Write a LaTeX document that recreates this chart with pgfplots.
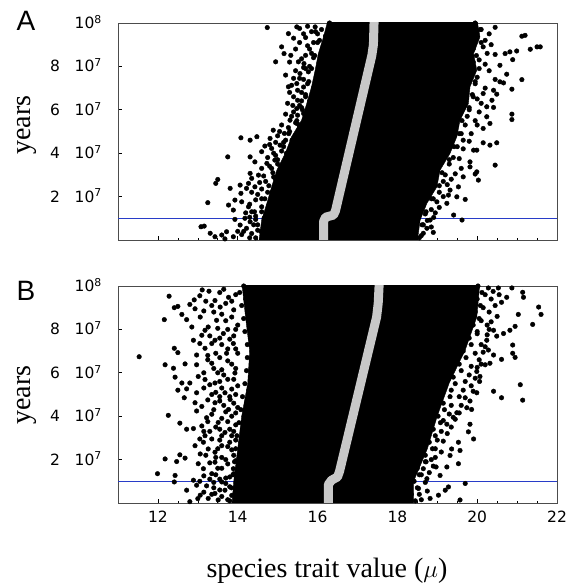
\documentclass[border=0pt]{standalone}
\usepackage{fontspec}
\setmainfont{Liberation Serif}
\newfontfamily\tickfont{DejaVu Sans}
\newfontfamily\panelfont{Liberation Sans}
\usepackage{pgfplots}
\pgfplotsset{compat=1.18}

\definecolor{medline}{RGB}{200,200,200}
\definecolor{cutline}{RGB}{40,60,200}
\newcommand{\tickfs}{\tickfont\fontsize{15.5}{17}\selectfont}

\pgfplotsset{
  panel/.style={
    scale only axis, width=439pt, height=217pt,
    xmin=11, xmax=22, ymin=0, ymax=10,
    xtick={12,14,16,18,20,22}, minor x tick num=3,
    ytick={2,4,6,8,10},
    xticklabels={}, yticklabels={},
    tick align=inside, tick pos=left,
    major tick length=4pt, minor tick length=2pt,
    axis line style={black!70, line width=0.8pt},
    tick style={black, line width=0.6pt},
  },
  dots/.style={only marks, mark=*, mark size=2.3pt, black},
}
\tikzset{
  ylab/.style={anchor=base east, font=\tickfs, inner sep=0pt, xshift=-16pt, yshift=-5.5pt},
  xlab/.style={anchor=north, font=\tickfs, inner sep=0pt, yshift=-8pt},
}

\begin{document}
\begin{tikzpicture}
\path[use as bounding box] (0pt,0pt) rectangle (575pt,587pt);

% ---------- panel A
\begin{axis}[panel, at={(118pt,347pt)}, anchor=south west]
  \addplot[color=cutline, line width=1.2pt] coordinates {(11,1) (22,1)};
  % dense core
  \addplot[fill=black, draw=black] coordinates {
    (14.52,-0.2) (14.60,0.92) (14.73,1.69) (14.85,2.45) (14.98,3.22) (15.19,3.99)
    (15.35,4.76) (15.60,5.52) (15.73,6.29) (15.85,7.06) (15.94,7.82) (16.02,8.59)
    (16.15,9.36) (16.27,10.2)
    (19.99,10.2) (20.07,9.36) (19.91,8.59) (19.99,7.82) (19.82,7.06) (19.78,6.29)
    (19.57,5.52) (19.49,4.76) (19.32,3.99) (19.07,3.22) (18.99,2.45) (18.74,1.69)
    (18.57,0.92) (18.49,-0.2)
  };
  % left fringe
  \addplot[dots] coordinates {
    (14.74,9.79) (15.48,9.82) (15.75,9.85) (15.94,9.82) (15.27,9.51) (15.70,9.33)
    (15.10,8.90) (15.33,8.51) (15.16,8.59) (15.70,8.51) (14.95,8.21) (15.52,8.21)
    (15.66,8.13) (15.56,7.67) (15.77,7.75) (15.27,7.06) (15.48,7.21) (15.35,7.13)
    (15.50,6.44) (15.60,6.41) (15.48,6.06) (15.65,5.83) (15.50,5.75) (15.31,5.52)
    (15.27,5.18) (14.89,5.06) (15.17,4.91) (14.08,4.71) (14.31,4.60) (14.48,4.76)
    (14.81,4.68) (14.68,4.33) (15.06,4.37) (14.85,4.22) (14.60,4.07) (14.31,3.83)
    (14.43,3.60) (13.75,3.83) (14.73,3.53) (14.93,3.68) (14.85,3.30) (14.52,2.99)
    (14.31,3.07) (14.35,2.84) (13.50,2.79) (13.45,2.61) (13.81,2.38) (14.06,2.53)
    (14.22,2.38) (14.27,2.61) (14.43,2.45) (14.08,2.15) (13.93,1.84) (14.10,1.76)
    (13.77,1.61) (13.89,1.38) (13.25,1.72) (14.27,1.53) (14.42,1.30) (14.60,1.53)
    (14.18,1.00) (13.93,0.95) (14.31,0.84) (14.06,0.69) (14.22,0.54) (13.16,0.64)
    (13.08,0.61) (13.31,0.31) (13.43,0.15) (13.60,0.23) (13.72,0.38) (13.68,0.05)
    (13.89,0.15)
    (15.85,9.6) (16.0,9.5) (15.9,9.1) (16.05,9.2) (15.8,8.8) (15.9,8.4) (15.8,8.0)
    (15.7,7.9) (15.65,7.4) (15.75,7.2) (15.6,6.8) (15.7,6.6) (15.4,6.6) (15.55,6.2)
    (15.4,5.9) (15.45,5.4) (15.3,5.0) (15.2,4.6) (15.0,4.8) (15.1,4.1) (14.95,3.9)
    (15.0,3.5) (14.9,2.9) (14.7,2.7) (14.75,2.2) (14.6,1.9) (14.5,2.1) (14.45,1.1)
    (14.4,0.7) (14.35,0.3) (14.1,0.25) (14.5,0.45)
    (14.45,0.1) (14.58,0.4) (14.5,0.7) (14.66,1.0) (14.6,1.3) (14.78,1.6) (14.68,1.9)
    (14.86,2.2) (14.78,2.5) (14.95,2.8) (14.88,3.1) (15.08,3.4) (15.0,3.7) (15.22,4.0)
    (15.15,4.3) (15.36,4.6) (15.28,4.9) (15.55,5.2) (15.48,5.5) (15.7,5.8) (15.6,6.1)
    (15.8,6.4) (15.7,6.7) (15.9,7.0) (15.78,7.3) (15.98,7.6) (15.85,7.9) (16.05,8.2)
    (15.93,8.5) (16.12,8.8) (16.0,9.1) (16.2,9.4) (16.1,9.7) (16.3,10.0)
    (15.55,9.75) (15.65,9.5) (15.4,9.3) (15.95,9.6) (15.55,9.1) (15.75,8.95) (15.45,8.8)
    (15.6,8.35) (15.85,8.6) (15.3,8.2) (15.65,7.95) (15.45,7.8) (15.2,7.6) (15.55,7.45)
    (15.4,7.45) (15.5,6.9) (15.3,6.8) (15.65,7.05) (15.25,6.3) (15.38,6.2) (15.62,6.0)
    (15.2,5.8) (15.35,5.7) (15.5,5.35) (15.1,5.3) (15.05,5.0) (14.95,4.5) (15.15,4.5)
    (14.8,4.4) (14.9,4.0) (14.75,3.8) (14.8,3.4) (14.6,3.3) (14.65,2.95) (14.55,2.65)
    (14.6,2.35) (14.35,2.2) (14.45,1.85) (14.3,1.65) (14.35,1.3) (14.2,1.25) (14.3,1.05)
    (14.15,0.4) (14.3,0.1) (14.0,0.4) (14.45,0.95)
  };
  % right fringe
  \addplot[dots] coordinates {
    (21.12,9.39) (21.20,9.43) (21.58,8.90) (21.50,8.90) (21.33,8.79) (20.99,8.71)
    (20.82,8.67) (20.70,8.59) (20.89,8.31) (20.57,8.05) (20.74,7.64) (21.12,7.39)
    (20.66,7.24) (20.57,7.29) (20.87,6.95) (20.41,6.90) (20.49,6.72) (20.37,6.44)
    (20.24,6.14) (20.41,6.11) (20.87,5.80) (20.87,5.55) (20.24,5.68) (20.32,5.37)
    (20.15,5.14) (20.49,4.48) (20.32,4.37) (20.15,4.48) (19.91,4.14) (19.99,4.14)
    (19.82,3.60) (20.45,3.45) (19.99,3.14) (19.95,3.04) (20.03,2.76) (19.65,2.91)
    (19.53,2.45) (19.32,2.30) (19.28,2.07) (19.70,1.87) (19.49,1.99) (18.99,1.76)
    (19.24,1.69) (19.41,1.15) (19.62,0.92) (18.91,1.04) (18.82,0.92) (18.74,0.54)
    (18.65,0.31) (19.82,3.37)
    (20.1,9.7) (20.2,9.2) (20.15,8.9) (20.05,8.3) (20.2,8.1) (20.0,7.5) (19.95,7.2)
    (19.9,6.6) (20.0,6.5) (19.8,6.0) (19.75,5.7) (19.7,5.3) (19.6,4.9) (19.65,4.6)
    (19.5,4.3) (19.4,3.8) (19.3,3.5) (19.2,3.0) (19.15,2.7) (19.05,2.2) (18.9,1.9)
    (18.85,1.4) (18.7,1.2) (18.65,0.7) (18.6,0.2)
    (18.55,0.1) (18.45,0.4) (18.62,0.7) (18.52,1.0) (18.72,1.3) (18.65,1.6) (18.85,1.9)
    (18.8,2.2) (19.05,2.5) (18.95,2.8) (19.12,3.1) (19.02,3.4) (19.3,3.7) (19.22,4.0)
    (19.42,4.3) (19.35,4.6) (19.55,4.9) (19.45,5.2) (19.62,5.5) (19.55,5.8) (19.8,6.1)
    (19.7,6.4) (19.88,6.7) (19.75,7.0) (19.95,7.3) (19.85,7.6) (20.05,7.9) (19.9,8.2)
    (19.98,8.5) (19.9,8.8) (20.1,9.1) (19.98,9.4) (20.08,9.7) (19.95,10.0)
    (20.3,9.5) (20.45,9.8) (20.35,9.0) (20.45,8.55) (20.25,8.6) (20.3,7.8) (20.45,7.4)
    (20.2,7.0) (20.15,6.75) (20.1,6.3) (20.05,5.9) (19.95,5.5) (20.0,5.3) (19.85,4.9)
    (19.8,4.55) (19.65,4.2) (19.55,3.75) (19.6,3.3) (19.45,3.05) (19.35,2.8) (19.25,2.55)
    (19.15,2.0) (19.05,1.5) (18.95,1.25) (18.85,0.6) (18.9,0.35) (18.75,0.9)
  };
  % median trait
  \addplot[medline, line width=9pt, line join=round] coordinates {
    (16.15,-0.3) (16.15,0.85) (16.2,1.05) (16.4,1.15) (16.45,1.35)
    (17.36,8.5) (17.40,9.0) (17.42,10.3)
  };
  \coordinate (A2) at (axis cs:11,2);
  \coordinate (A4) at (axis cs:11,4);
  \coordinate (A6) at (axis cs:11,6);
  \coordinate (A8) at (axis cs:11,8);
  \coordinate (A10) at (axis cs:11,10);
\end{axis}

% ---------- panel B
\begin{axis}[panel, at={(118pt,84pt)}, anchor=south west]
  \addplot[color=cutline, line width=1.2pt] coordinates {(11,1) (22,1)};
  \addplot[fill=black, draw=black] coordinates {
    (13.85,-0.2) (13.9,1) (14.0,2.5) (14.1,4) (14.25,5.5) (14.3,7) (14.2,8.5) (14.1,10.2)
    (20.07,10.2) (19.99,8.57) (19.7,7.05) (19.3,5.53) (19.0,4.01) (18.75,2.49)
    (18.4,0.97) (18.4,-0.2)
  };
  % left fringe
  \addplot[dots] coordinates {
    (13.11,9.82) (13.28,9.76) (12.28,9.53) (12.91,9.36) (12.41,9.00) (12.50,9.06)
    (12.16,8.45) (12.60,8.69) (12.80,9.15) (12.93,8.95) (12.72,8.45) (13.06,8.57)
    (12.41,7.13) (12.50,6.93) (11.53,6.74) (12.18,6.37) (12.68,6.41) (12.97,6.82)
    (13.18,7.13) (12.39,6.21) (12.43,5.80) (12.97,6.37) (13.18,5.69) (12.50,5.20)
    (12.72,5.26) (12.66,4.85) (12.97,5.08) (12.26,4.04) (12.55,3.68) (12.97,4.24)
    (12.89,3.43) (13.10,3.55) (13.22,3.93) (13.35,4.09) (12.18,2.03) (11.99,1.35)
    (12.47,1.91) (12.55,2.22) (12.68,2.07) (12.93,2.64) (13.14,2.80) (12.43,1.27)
    (12.41,0.97) (12.72,0.59) (12.97,0.82) (12.89,1.05) (13.14,1.58) (13.01,1.81)
    (13.43,1.88) (13.35,1.35) (13.22,0.79) (13.60,0.97) (13.43,0.44) (13.26,0.21)
    (12.80,0.06) (13.06,0.36) (13.51,0.14) (13.68,0.59) (13.43,2.34) (13.60,2.64)
    (13.68,3.25) (13.51,3.71) (13.77,4.31) (13.43,4.62) (13.68,5.08) (13.43,5.53)
    (13.60,6.14) (13.35,6.44) (13.72,6.90) (13.43,7.50) (13.64,7.81) (13.26,8.11)
    (13.47,8.42) (13.56,9.03) (13.77,9.48) (13.43,9.33) (13.85,8.57) (13.89,7.35)
    (13.93,5.99) (13.81,4.77) (13.85,3.10) (13.89,1.58) (13.93,0.67) (12.89,7.50)
    (13.10,7.73) (13.18,7.96) (12.85,8.11) (13.35,7.35) (13.01,5.83) (12.80,5.53)
    (12.60,5.53) (12.93,4.62) (12.72,3.40) (13.18,3.10) (13.26,2.49) (13.06,2.26)
    (13.55,9.7) (13.7,9.2) (13.95,9.6) (13.6,8.7) (13.9,8.9) (14.0,8.2) (13.75,8.0)
    (13.55,7.6) (13.9,7.7) (13.75,7.1) (14.0,6.9) (13.55,6.7) (13.85,6.4) (13.5,6.0)
    (13.75,5.7) (14.0,5.4) (13.6,5.3) (13.95,5.0) (13.55,4.9) (13.65,4.5) (14.0,4.4)
    (13.85,4.0) (13.6,3.9) (13.95,3.6) (13.55,3.4) (13.8,3.4) (13.95,2.9) (13.55,2.9)
    (13.75,2.6) (13.9,2.2) (13.6,2.1) (13.75,1.8) (13.5,1.6) (13.8,1.2) (13.55,1.1)
    (13.7,0.9) (13.85,0.35) (13.6,0.3) (13.4,0.7) (13.3,1.1) (13.3,3.3) (13.35,5.0)
    (13.25,6.8) (13.4,8.8) (13.2,9.3)
    (13.8,0.1) (13.92,0.4) (13.84,0.7) (13.97,1.0) (13.88,1.3) (14.0,1.6) (13.92,1.9)
    (14.06,2.2) (13.95,2.5) (14.08,2.8) (13.98,3.1) (14.12,3.4) (14.03,3.7) (14.16,4.0)
    (14.08,4.3) (14.22,4.6) (14.12,4.9) (14.28,5.2) (14.18,5.5) (14.32,5.8) (14.22,6.1)
    (14.35,6.4) (14.24,6.7) (14.36,7.0) (14.24,7.3) (14.32,7.6) (14.18,7.9) (14.3,8.2)
    (14.15,8.5) (14.25,8.8) (14.1,9.1) (14.2,9.4) (14.05,9.7) (14.15,10.0)
    (13.05,9.55) (13.35,9.1) (13.65,9.85) (13.85,9.3) (13.15,8.85) (13.7,8.4) (13.5,8.05)
    (13.95,8.0) (13.3,7.7) (13.8,7.55) (13.6,7.3) (13.05,7.35) (13.95,7.1) (13.45,6.9)
    (13.25,6.6) (13.75,6.55) (13.95,6.2) (13.4,6.2) (13.15,6.0) (13.65,5.9) (13.9,5.7)
    (13.3,5.45) (13.55,5.6) (13.85,5.25) (13.15,5.3) (13.45,5.1) (13.8,4.9) (13.25,4.75)
    (13.55,4.7) (13.9,4.6) (13.1,4.45) (13.4,4.3) (13.7,4.2) (13.95,4.15) (13.25,3.75)
    (13.75,3.75) (13.45,3.5) (13.9,3.3) (13.15,3.3) (13.6,3.1) (13.35,2.95) (13.8,2.8)
    (13.05,2.95) (13.5,2.5) (13.85,2.45) (13.2,2.2) (13.45,2.1) (13.7,2.0) (13.95,1.95)
    (13.3,1.85) (13.6,1.6) (13.9,1.35) (13.15,1.25) (13.45,1.3) (13.7,1.15) (13.05,1.0)
    (13.4,0.95) (13.8,0.75) (13.55,0.6) (13.15,0.5) (13.35,0.4) (13.75,0.15) (13.0,0.2)
  };
  % right fringe
  \addplot[dots] coordinates {
    (20.87,9.91) (21.14,9.71) (21.16,9.48) (20.74,9.48) (20.53,9.91) (20.28,9.91)
    (20.61,9.25) (21.54,9.03) (21.60,8.69) (21.03,8.69) (21.39,8.23) (20.95,8.14)
    (20.82,7.96) (20.66,7.81) (20.49,7.69) (20.41,7.96) (20.24,7.50) (20.89,7.28)
    (20.89,6.90) (20.95,6.71) (20.61,6.62) (20.28,7.05) (20.41,6.82) (20.32,6.44)
    (20.20,6.37) (20.07,5.83) (20.06,5.60) (19.99,6.06) (21.08,5.45) (20.41,5.15)
    (20.61,4.85) (21.14,4.74) (19.99,5.08) (19.82,4.70) (19.74,4.39) (19.86,4.31)
    (19.82,3.63) (19.78,3.28) (19.91,2.95) (19.49,4.16) (19.45,3.86) (19.24,3.63)
    (19.53,2.80) (19.36,2.49) (19.57,2.42) (19.53,1.81) (19.32,2.19) (19.24,1.66)
    (19.07,1.27) (18.97,1.66) (19.70,0.90) (19.28,0.74) (19.20,0.59) (19.03,0.36)
    (19.57,0.14) (18.74,1.12) (18.65,1.58) (18.53,0.67) (18.82,0.21)
    (20.2,9.6) (20.35,9.4) (20.15,9.0) (20.3,8.8) (20.1,8.4) (20.25,8.2) (20.0,7.8)
    (20.1,7.3) (19.95,6.9) (20.05,6.6) (19.85,6.3) (19.8,5.9) (19.7,5.6) (19.65,5.2)
    (19.55,4.9) (19.35,4.5) (19.3,4.1) (19.15,3.8) (19.1,3.3) (19.0,2.9) (18.95,2.5)
    (18.85,2.0) (18.7,1.9) (18.6,1.3) (18.55,0.4)
    (18.45,0.1) (18.35,0.4) (18.5,0.7) (18.42,1.0) (18.55,1.3) (18.5,1.6) (18.72,1.9)
    (18.7,2.2) (18.88,2.5) (18.8,2.8) (18.95,3.1) (18.9,3.4) (19.08,3.7) (19.02,4.0)
    (19.18,4.3) (19.15,4.6) (19.32,4.9) (19.35,5.2) (19.45,5.5) (19.4,5.8) (19.6,6.1)
    (19.55,6.4) (19.72,6.7) (19.65,7.0) (19.85,7.3) (19.8,7.6) (20.0,7.9) (19.9,8.2)
    (20.05,8.5) (19.95,8.8) (20.08,9.1) (20.0,9.4) (20.12,9.7) (20.02,10.0)
    (20.4,9.75) (20.55,9.6) (20.45,9.1) (20.5,8.6) (20.35,8.35) (20.3,8.0) (20.25,7.75)
    (20.2,7.2) (20.15,6.95) (20.1,6.4) (20.0,6.25) (19.95,5.75) (19.85,5.4) (19.9,5.15)
    (19.7,4.85) (19.6,4.5) (19.55,4.15) (19.4,3.95) (19.35,3.5) (19.25,3.2) (19.15,2.85)
    (19.1,2.35) (18.95,2.1) (18.9,1.7) (18.8,1.4) (18.7,0.95) (18.75,0.55) (18.6,0.15)
  };
  \addplot[medline, line width=9pt, line join=round] coordinates {
    (16.27,-0.3) (16.27,0.85) (16.35,1.05) (16.5,1.2) (16.55,1.45)
    (17.48,8.57) (17.52,9.2) (17.55,10.3)
  };
  \coordinate (B2) at (axis cs:11,2);
  \coordinate (B4) at (axis cs:11,4);
  \coordinate (B6) at (axis cs:11,6);
  \coordinate (B8) at (axis cs:11,8);
  \coordinate (B10) at (axis cs:11,10);
  \coordinate (X12) at (axis cs:12,0);
  \coordinate (X14) at (axis cs:14,0);
  \coordinate (X16) at (axis cs:16,0);
  \coordinate (X18) at (axis cs:18,0);
  \coordinate (X20) at (axis cs:20,0);
  \coordinate (X22) at (axis cs:22,0);
\end{axis}

% ---------- tick labels
\foreach \p in {A,B} {
  \foreach \v in {2,4,6,8} {
    \node[ylab] at (\p\v) {\v\hspace{0.95em}10\textsuperscript{7}};
  }
  \node[ylab] at (\p10) {10\textsuperscript{8}};
}
\foreach \v in {12,14,16,18,20,22} {
  \node[xlab] at (X\v) {\v};
}

% ---------- labels
\node[font=\panelfont\fontsize{28}{28}\selectfont] at (26pt,566pt) {A};
\node[font=\panelfont\fontsize{28}{28}\selectfont] at (26pt,296pt) {B};
\node[font=\fontsize{28}{28}\selectfont, rotate=90] at (27pt,462pt) {years};
\node[font=\fontsize{28}{28}\selectfont, rotate=90] at (27pt,192pt) {years};
\node[font=\fontsize{28}{28}\selectfont] at (327pt,16pt) {species trait value ($\mu$)};
\end{tikzpicture}
\end{document}
